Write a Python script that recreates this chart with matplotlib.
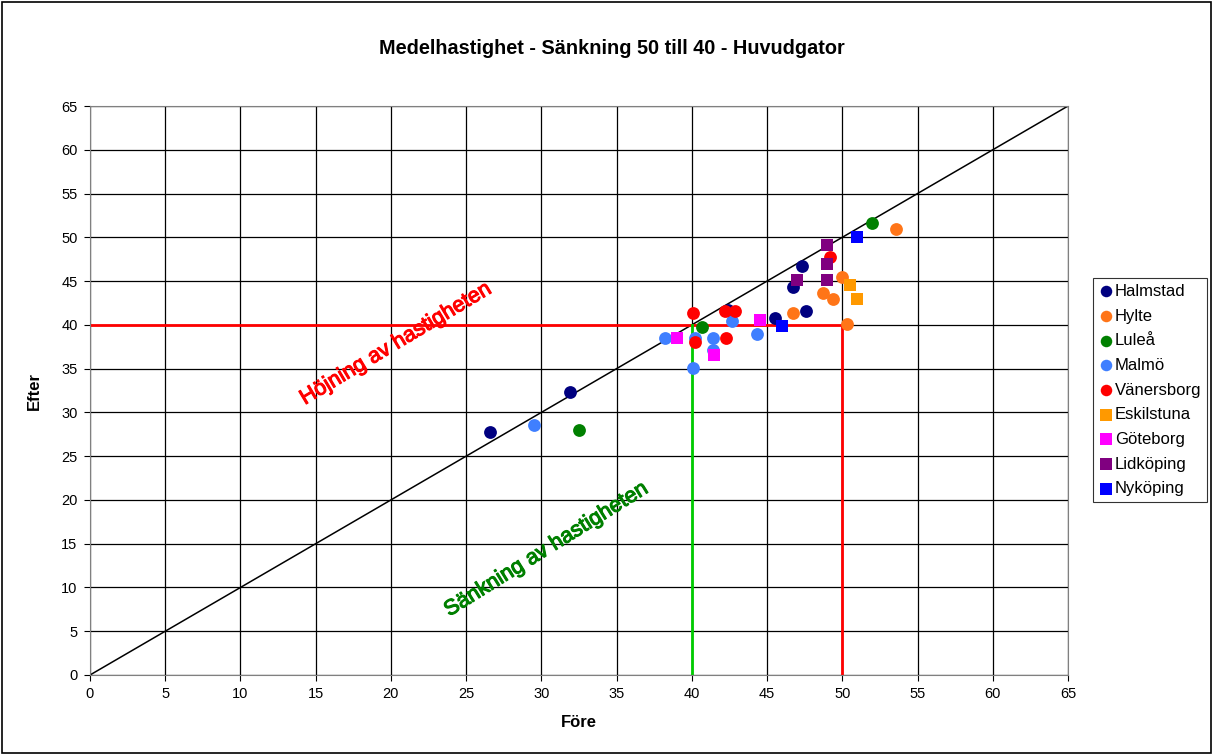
import matplotlib
matplotlib.use("Agg")
import matplotlib.pyplot as plt
from matplotlib.patches import Rectangle
import matplotlib.patheffects as pe

plt.rcParams['font.family'] = ['Liberation Sans', 'DejaVu Sans']

title = "Medelhastighet - Sänkning 50 till 40 - Huvudgator"
xlabel = "Före"
ylabel = "Efter"

series = [
    ("Halmstad", "o", "#000080",
     [26.6, 31.9, 45.5, 47.6, 47.3, 46.7, 42.4],
     [27.8, 32.3, 40.8, 41.6, 46.7, 44.3, 41.7]),
    ("Hylte", "o", "#FF7518",
     [53.6, 50.0, 48.7, 49.4, 46.7, 50.3],
     [51.0, 45.5, 43.6, 43.0, 41.4, 40.1]),
    ("Luleå", "o", "#008000",
     [52.0, 32.5, 40.7],
     [51.6, 28.0, 39.8]),
    ("Malmö", "o", "#3F7FFF",
     [29.5, 38.2, 40.2, 41.4, 41.4, 40.1, 42.7, 44.3],
     [28.6, 38.5, 38.5, 38.5, 37.1, 35.1, 40.4, 39.0]),
    ("Vänersborg", "o", "#FF0000",
     [40.1, 40.2, 42.3, 42.2, 42.9, 49.2],
     [41.3, 38.0, 38.5, 41.6, 41.6, 47.7]),
    ("Eskilstuna", "s", "#FF9900",
     [50.5, 51.0],
     [44.5, 43.0]),
    ("Göteborg", "s", "#FF00FF",
     [39.0, 41.5, 44.5],
     [38.5, 36.5, 40.6]),
    ("Lidköping", "s", "#800080",
     [49.0, 49.0, 47.0, 49.0],
     [49.1, 47.0, 45.1, 45.1]),
    ("Nyköping", "s", "#0000FF",
     [51.0, 46.0],
     [50.0, 39.9]),
]

ticks = list(range(0, 70, 5))

fig = plt.figure(figsize=(12.13, 7.55), dpi=100)
fig.patches.append(Rectangle((0.002, 0.002), 0.996, 0.995, transform=fig.transFigure,
                             fill=False, edgecolor='black', linewidth=1.2))
ax = fig.add_axes([90/1213, 1-675/755, (1068-90)/1213, (675-106)/755])

ax.set_xlim(0, 65)
ax.set_ylim(0, 65)
ax.set_xticks(ticks)
ax.set_yticks(ticks)
ax.grid(True, color='black', linewidth=0.9)
ax.set_axisbelow(True)
for s in ax.spines.values():
    s.set_color('#808080')
ax.tick_params(labelsize=10.5, length=4, direction='out', color='black', pad=5)

ax.plot([0, 65], [0, 65], color='black', linewidth=1.1, zorder=2)
ax.plot([0, 50], [40, 40], color='red', linewidth=2, zorder=2)
ax.plot([50, 50], [0, 40], color='red', linewidth=2, zorder=2)
ax.plot([40, 40], [0, 40], color='#00CC00', linewidth=2, zorder=2)

for name, m, c, xs, ys in series:
    ax.scatter(xs, ys, marker=m, s=85, color=c, label=name, zorder=3, linewidths=0)

ax.text(20.3, 37.8, "Höjning av hastigheten", color='red', fontsize=15.5,
        rotation=31, ha='center', va='center', rotation_mode='anchor',
        path_effects=[pe.withStroke(linewidth=0.8, foreground='red')])
ax.text(30.3, 14.3, "Sänkning av hastigheten", color='#008000', fontsize=15.5,
        rotation=32, ha='center', va='center', rotation_mode='anchor',
        path_effects=[pe.withStroke(linewidth=0.8, foreground='#008000')])

ax.set_xlabel(xlabel, fontsize=12, fontweight='bold', labelpad=10)
ax.set_ylabel(ylabel, fontsize=12, fontweight='bold', labelpad=14)
fig.text(612/1213, 1-48/755, title, fontsize=14.3, fontweight='bold', ha='center', va='center')

leg = ax.legend(loc='upper left', bbox_to_anchor=(1093/1213, 1-278/755),
                bbox_transform=fig.transFigure, frameon=True, fancybox=False,
                edgecolor='black', fontsize=12, handletextpad=0.05,
                borderpad=0.35, labelspacing=0.58, handlelength=0.9, markerscale=0.9,
                borderaxespad=0)
leg.get_frame().set_linewidth(0.8)

fig.savefig("out.png", dpi=100)
